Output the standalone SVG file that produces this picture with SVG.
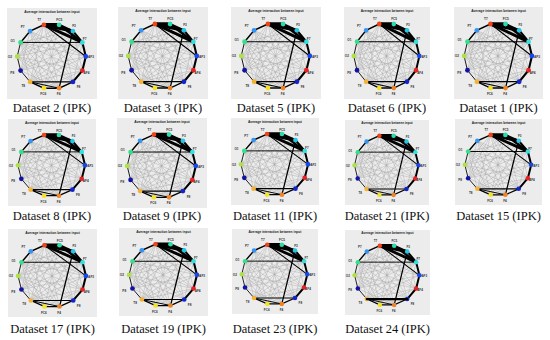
<svg xmlns="http://www.w3.org/2000/svg" width="550" height="340" viewBox="0 0 550 340">
<style>
.bg{fill:#ececec}
.ttl{font-family:"Liberation Sans",Arial,sans-serif;font-size:3.4px;font-weight:bold;fill:#222;text-anchor:middle}
.lbl{font-family:"Liberation Sans",Arial,sans-serif;font-size:3.2px;font-weight:bold;fill:#333;text-anchor:middle}
.cap{font-family:"Liberation Serif","Times New Roman",serif;font-size:12.5px;fill:#111;text-anchor:middle}
.c{fill:none;stroke:#a2a2a2;stroke-width:0.42}
.k{fill:none;stroke:#000;stroke-linecap:round}
</style>
<defs>
<g id="plot">
<rect class="bg" x="0" y="0" width="90" height="91"/>
<text class="ttl" x="45" y="4.8">Average interaction between input</text>
<g id="chords">
<path class="c" d="M13.6 34.4L65.9 23.1M13.6 34.4L78.8 48.5M13.6 34.4L75.4 62.6M13.6 34.4L65.9 73.9M13.6 34.4L52.1 80.2M13.6 34.4L36.9 80.2M10.2 48.5L52.1 16.8M10.2 48.5L65.9 23.1M10.2 48.5L75.4 34.4M10.2 48.5L75.4 62.6M10.2 48.5L65.9 73.9M10.2 48.5L52.1 80.2M23.1 23.1L78.8 48.5M23.1 23.1L75.4 62.6M23.1 23.1L65.9 73.9M23.1 23.1L52.1 80.2M23.1 23.1L36.9 80.2M13.6 62.6L36.9 16.8M13.6 62.6L52.1 16.8M13.6 62.6L65.9 23.1M13.6 62.6L75.4 34.4M13.6 62.6L78.8 48.5M23.1 73.9L36.9 16.8M23.1 73.9L52.1 16.8M23.1 73.9L65.9 23.1M23.1 73.9L75.4 34.4M23.1 73.9L78.8 48.5M36.9 80.2L52.1 16.8M36.9 80.2L65.9 23.1M36.9 80.2L75.4 34.4M36.9 80.2L75.4 62.6M52.1 80.2L36.9 16.8M52.1 80.2L13.6 62.6M65.9 73.9L36.9 16.8M65.9 73.9L52.1 16.8M75.4 62.6L36.9 16.8M13.6 34.4L23.1 73.9M10.2 48.5L36.9 16.8M23.1 23.1L13.6 62.6M75.4 62.6L65.9 23.1M65.9 73.9L75.4 34.4M23.1 73.9L75.4 62.6M10.2 48.5L36.9 80.2"/>
</g>
<g id="ring">
<path class="k" stroke-width="0.9" d="M13.6 34.4L10.2 48.5L13.6 62.6L23.1 73.9"/>
<path class="k" stroke-width="1.4" d="M23.1 73.9L36.9 80.2L52.1 80.2L65.9 73.9"/>
<path class="k" stroke-width="2.1" d="M65.9 73.9L75.4 62.6L78.8 48.5L75.4 34.4"/>
<path class="k" stroke-width="1.5" d="M13.6 34.4L23.1 23.1L36.9 16.8"/>
<path class="k" stroke-width="3.6" d="M36.9 16.8L52.1 16.8"/>
<path class="k" stroke-width="2.2" d="M52.1 16.8L65.9 23.1L75.4 34.4"/>
<path class="k" stroke-width="3.4" d="M36.9 16.8L65.9 23.1"/>
<path class="k" stroke-width="3" d="M36.9 16.8L75.4 34.4"/>
<path class="k" stroke-width="2.4" d="M52.1 16.8L75.4 34.4"/>
<path class="k" stroke-width="1.1" d="M36.9 16.8L78.8 48.5"/>
<path class="k" stroke-width="1.3" d="M65.9 23.1L52.1 80.2"/>
<path class="k" stroke-width="1" d="M13.6 34.4L75.4 34.4"/>
<path class="k" stroke-width="1.2" d="M23.1 73.9L65.9 73.9"/>
<path class="k" stroke-width="1" d="M23.1 73.9L52.1 80.2"/>
</g>
<g id="nodes">
<circle cx="36.9" cy="16.8" r="2.4" fill="#ee4418"/>
<circle cx="52.1" cy="16.8" r="2.4" fill="#2cdcae"/>
<circle cx="65.9" cy="23.1" r="2.4" fill="#22c8e4"/>
<circle cx="75.4" cy="34.4" r="2.4" fill="#34e0e0"/>
<circle cx="78.8" cy="48.5" r="2.4" fill="#1448ee"/>
<circle cx="75.4" cy="62.6" r="2.4" fill="#e62222"/>
<circle cx="65.9" cy="73.9" r="2.4" fill="#1424cc"/>
<circle cx="52.1" cy="80.2" r="2.4" fill="#f08424"/>
<circle cx="36.9" cy="80.2" r="2.4" fill="#f6e420"/>
<circle cx="23.1" cy="73.9" r="2.4" fill="#f6b236"/>
<circle cx="13.6" cy="62.6" r="2.4" fill="#1212a4"/>
<circle cx="10.2" cy="48.5" r="2.4" fill="#aee244"/>
<circle cx="13.6" cy="34.4" r="2.4" fill="#34e088"/>
<circle cx="23.1" cy="23.1" r="2.4" fill="#3494f0"/>
</g>
<g id="labels">
<text class="lbl" x="32.3" y="13.1">T7</text>
<text class="lbl" x="52.3" y="13.1">FC5</text>
<text class="lbl" x="67" y="19.1">F3</text>
<text class="lbl" x="77.6" y="32.4">F7</text>
<text class="lbl" x="84" y="50.4">AF3</text>
<text class="lbl" x="79.5" y="65.8">AF4</text>
<text class="lbl" x="71.5" y="80.4">F8</text>
<text class="lbl" x="51.7" y="87.4">F4</text>
<text class="lbl" x="36.3" y="87.4">FC6</text>
<text class="lbl" x="16.3" y="79.1">T8</text>
<text class="lbl" x="5.3" y="65.8">P8</text>
<text class="lbl" x="3" y="49.8">O2</text>
<text class="lbl" x="5.6" y="33.8">O1</text>
<text class="lbl" x="15.6" y="19.8">P7</text>
</g>
</g>
</defs>

<g id="panel-ds2" transform="translate(7,8)"><use href="#plot"/></g>
<g id="panel-ds3" transform="translate(118,7) scale(1,1.011)"><use href="#plot"/></g>
<g id="panel-ds5" transform="translate(231,7) scale(1,1.011)"><use href="#plot"/></g>
<g id="panel-ds6" transform="translate(344,7) scale(0.956,1.011)"><use href="#plot"/></g>
<g id="panel-ds1" transform="translate(454,7) scale(0.989,1.011)"><use href="#plot"/></g>
<g id="panel-ds8" transform="translate(8,119) scale(0.978,0.956)"><use href="#plot"/></g>
<g id="panel-ds9" transform="translate(117,118) scale(1,0.989)"><use href="#plot"/></g>
<g id="panel-ds11" transform="translate(231,118) scale(0.978,0.956)"><use href="#plot"/></g>
<g id="panel-ds21" transform="translate(345,120) scale(0.933,0.934)"><use href="#plot"/></g>
<g id="panel-ds15" transform="translate(455,119) scale(0.967,0.945)"><use href="#plot"/></g>
<g id="panel-ds17" transform="translate(8,229) scale(0.989,0.967)"><use href="#plot"/></g>
<g id="panel-ds19" transform="translate(119,228) scale(0.989,0.967)"><use href="#plot"/></g>
<g id="panel-ds23" transform="translate(232,229) scale(0.956,0.934)"><use href="#plot"/></g>
<g id="panel-ds24" transform="translate(345,230) scale(0.944,0.934)"><use href="#plot"/><path class="k" stroke-width="2.4" d="M23.1 73.9L65.9 73.9"/></g>

<g id="captions">
<text class="cap" x="52" y="112">Dataset 2 (IPK)</text>
<text class="cap" x="163" y="112">Dataset 3 (IPK)</text>
<text class="cap" x="276" y="112">Dataset 5 (IPK)</text>
<text class="cap" x="387" y="112">Dataset 6 (IPK)</text>
<text class="cap" x="498.5" y="112">Dataset 1 (IPK)</text>
<text class="cap" x="52" y="220">Dataset 8 (IPK)</text>
<text class="cap" x="162" y="220">Dataset 9 (IPK)</text>
<text class="cap" x="275" y="220">Dataset 11 (IPK)</text>
<text class="cap" x="387" y="220">Dataset 21 (IPK)</text>
<text class="cap" x="498.5" y="220">Dataset 15 (IPK)</text>
<text class="cap" x="52.5" y="333">Dataset 17 (IPK)</text>
<text class="cap" x="163.5" y="333">Dataset 19 (IPK)</text>
<text class="cap" x="275" y="333">Dataset 23 (IPK)</text>
<text class="cap" x="387.5" y="333">Dataset 24 (IPK)</text>
</g>
</svg>
